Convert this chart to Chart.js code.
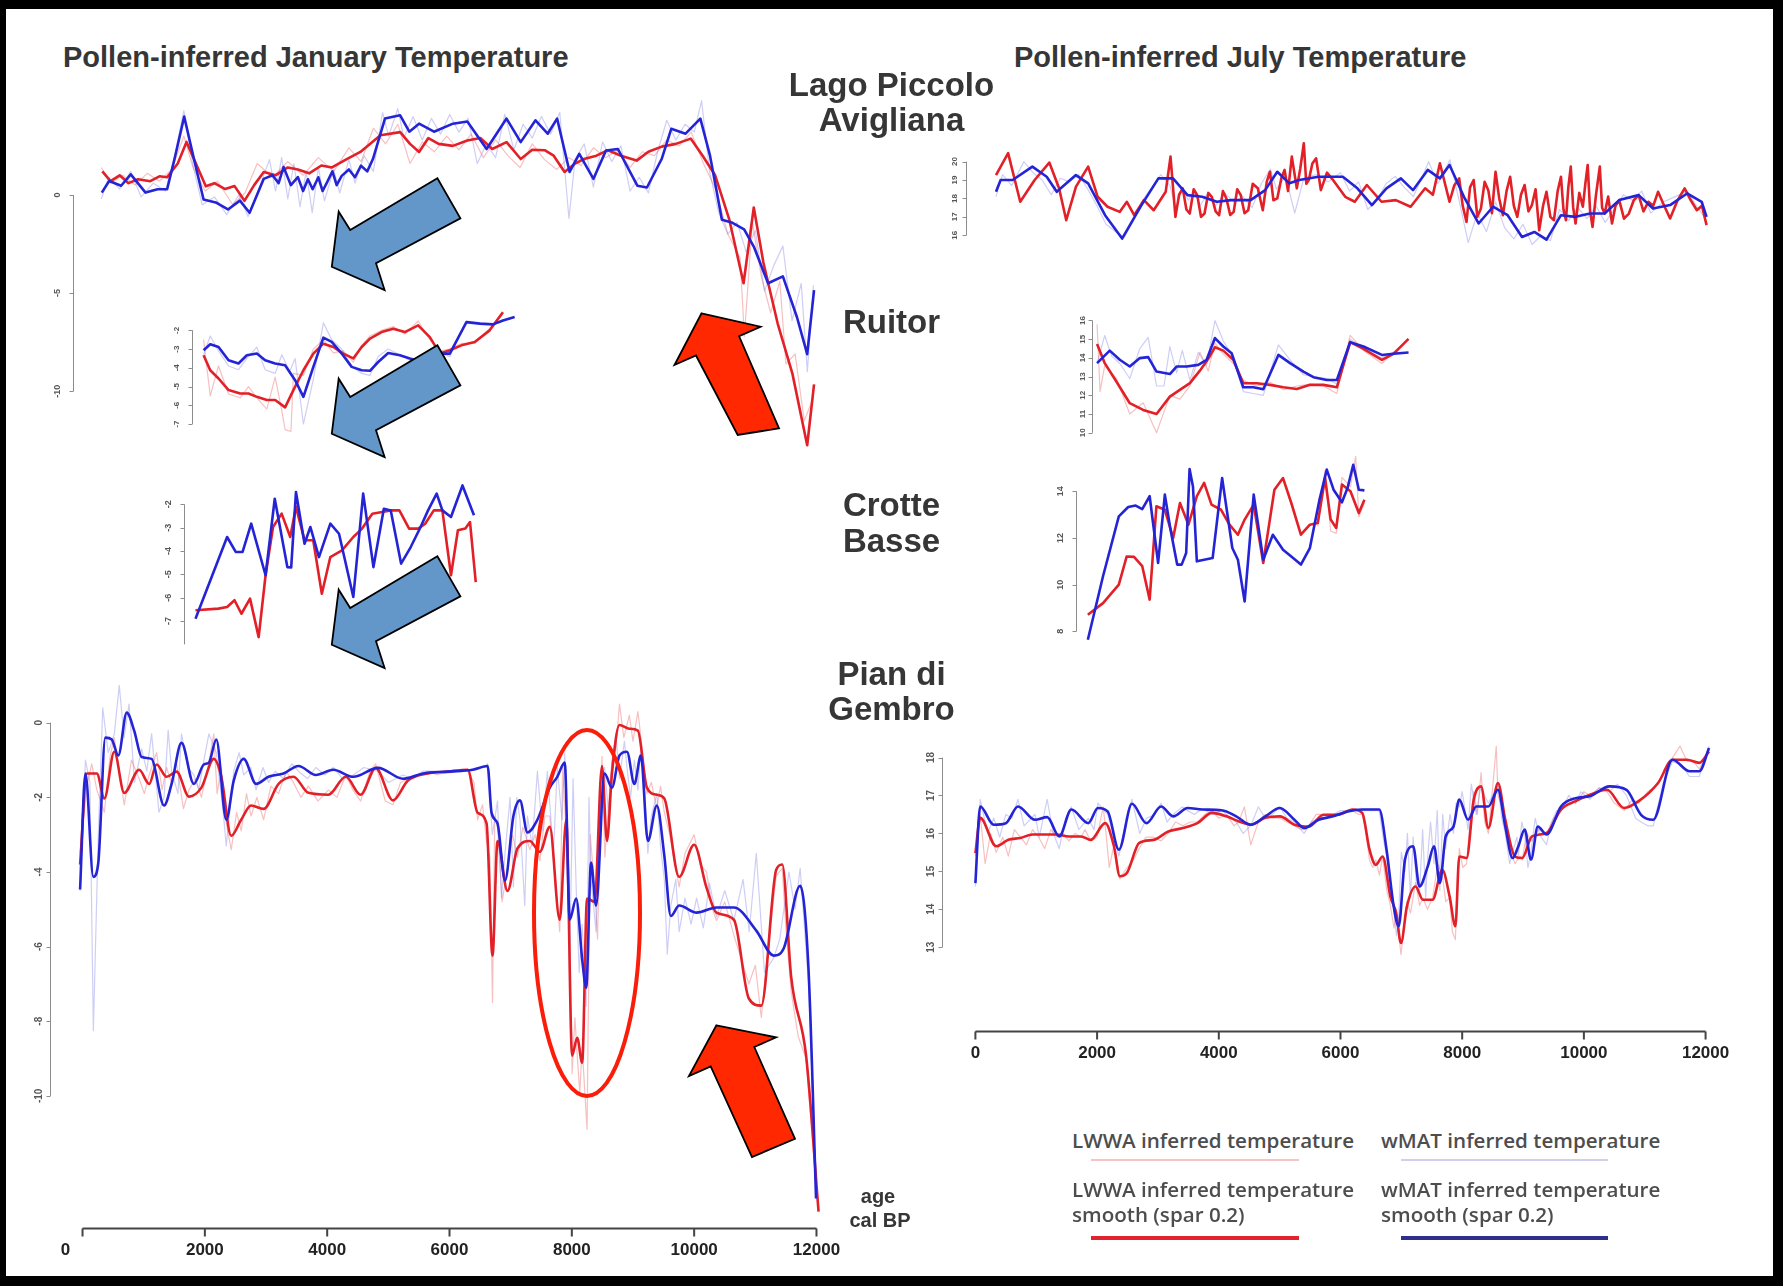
<!DOCTYPE html>
<html>
<head>
<meta charset="utf-8">
<script src="https://cdn.jsdelivr.net/npm/chart.js@4.4.1/dist/chart.umd.min.js"></script>
<style>
  html, body { margin: 0; padding: 0; background: #000; }
  #page { position: relative; width: 1783px; height: 1286px; background: #000; overflow: hidden; }
  #paper { position: absolute; left: 6px; top: 9px; width: 1767px; height: 1267px; background: #fff; }
  canvas { position: absolute; }
  .t { position: absolute; white-space: nowrap; font-family: "Liberation Sans", Arial, sans-serif; font-weight: bold; color: #363636; line-height: 1; }
  .lg { position: absolute; white-space: nowrap; font-family: "Open Sans", sans-serif; font-weight: 600; color: #4d4d4d; line-height: 1; transform-origin: 0 0; }
  .ln { position: absolute; }
  svg { position: absolute; left: 0; top: 0; }
</style>
</head>
<body>
<div id="page"><div id="paper"></div></div>
<script>
// age axis shared by every panel of a column
const ageTicks = [0, 2000, 4000, 6000, 8000, 10000, 12000];

// ---- Lago Piccolo di Avigliana, January ----
const lagoJanBlue = [[307,0.12],[428,0.71],[623,0.47],[781,1.05],[1023,0.12],[1220,0.29],[1376,0.29],[1497,1.83],[1655,3.99],[1815,1.83],[1972,-0.23],[2171,-0.38],[2371,-0.74],[2567,-0.29],[2725,-0.91],[2957,0.82],[3100,1.0],[3200,0.6],[3281,1.42],[3400,0.5],[3515,0.91],[3600,0.2],[3680,0.8],[3757,0.29],[3850,0.9],[3920,0.2],[3992,0.64],[4080,1.2],[4150,0.5],[4232,0.97],[4350,1.3],[4450,0.9],[4548,1.49],[4650,1.2],[4743,1.83],[4940,3.89],[5186,4.06],[5338,3.22],[5498,3.63],[5742,3.22],[6052,3.63],[6287,3.74],[6603,2.34],[6929,3.89],[7161,2.69],[7403,3.8],[7602,3.12],[7756,3.89],[7961,1.17],[8119,2.09],[8351,0.82],[8556,2.26],[8751,2.34],[9069,0.47],[9226,0.38],[9467,1.83],[9624,3.37],[9858,3.12],[10100,3.89],[10258,2.0],[10453,-1.26],[10611,-1.4],[10816,-1.75],[10974,-2.63],[11208,-4.5],[11450,-4.15],[11681,-6.23],[11848,-8.11],[11960,-4.85]];
const lagoJanRed = [[316,1.2],[450,0.7],[600,1.0],[744,0.6],[900,0.8],[1100,0.7],[1250,0.95],[1376,0.9],[1550,1.6],[1693,2.7],[2009,0.44],[2150,0.6],[2325,0.3],[2480,0.45],[2641,-0.3],[2800,0.5],[2957,1.17],[3150,1.0],[3350,1.4],[3515,1.3],[3700,1.1],[3900,1.5],[4073,1.4],[4300,1.8],[4538,2.19],[4866,3.04],[5189,3.2],[5350,2.6],[5498,2.19],[5650,2.9],[5818,2.6],[6050,2.5],[6287,2.77],[6500,2.9],[6696,2.34],[6929,2.69],[7161,1.83],[7350,2.3],[7552,2.28],[7700,2.0],[7879,1.17],[8050,1.6],[8195,1.83],[8400,2.0],[8588,2.28],[8800,2.0],[9058,1.75],[9250,2.2],[9467,2.46],[9700,2.6],[9942,2.87],[10137,2.0],[10342,1.0],[10574,-1.26],[10807,-4.5],[10974,-0.64],[11132,-3.45],[11365,-6.55],[11606,-9.1],[11848,-12.75],[11960,-9.65]];
const lagoJanBlueRaw = [[300,-0.2],[420,0.9],[600,0.3],[780,1.2],[950,-0.1],[1150,0.6],[1350,0.2],[1500,2.0],[1650,4.3],[1800,1.5],[1950,-0.5],[2150,-0.1],[2350,-1.0],[2550,0.0],[2700,-1.1],[2900,0.5],[3050,1.8],[3150,0.2],[3250,1.9],[3350,-0.2],[3450,1.6],[3550,-0.6],[3650,1.2],[3750,-0.9],[3850,1.4],[3950,-0.3],[4100,1.3],[4200,0.1],[4350,1.8],[4450,0.6],[4600,2.0],[4750,1.2],[4900,4.2],[5000,3.0],[5150,4.4],[5250,2.9],[5400,4.0],[5550,2.8],[5700,3.9],[5850,3.1],[6000,4.1],[6150,3.2],[6300,3.9],[6450,1.6],[6600,2.6],[6750,1.9],[6900,4.1],[7050,2.3],[7200,3.6],[7350,2.9],[7500,4.0],[7650,3.1],[7800,4.2],[7950,-1.2],[8050,1.8],[8200,2.6],[8350,0.4],[8500,2.7],[8650,1.7],[8800,2.5],[8950,0.2],[9100,0.9],[9250,0.1],[9400,2.2],[9550,3.8],[9700,2.8],[9850,3.6],[10000,3.2],[10120,4.8],[10250,1.2],[10400,-0.9],[10550,-2.0],[10700,-1.4],[10850,-2.9],[11000,-1.8],[11150,-4.9],[11300,-3.6],[11450,-2.6],[11600,-6.4],[11750,-4.5],[11850,-9.0],[11950,-4.6]];
const lagoJanRedRaw = [[300,1.4],[450,0.6],[650,1.0],[850,0.5],[1050,1.1],[1250,0.7],[1450,1.3],[1650,3.0],[1800,1.4],[2000,0.2],[2200,0.7],[2450,-0.5],[2650,0.1],[2850,1.6],[3100,0.9],[3350,1.7],[3600,1.0],[3850,1.9],[4100,1.2],[4350,2.4],[4550,1.7],[4750,3.4],[4950,2.6],[5150,3.6],[5350,1.6],[5550,2.7],[5750,2.2],[5950,3.0],[6150,2.3],[6350,3.1],[6550,1.9],[6750,2.8],[6950,2.0],[7150,1.4],[7350,2.6],[7550,1.8],[7750,1.3],[7950,1.9],[8150,1.5],[8350,2.4],[8550,1.9],[8750,2.3],[8950,1.4],[9150,2.2],[9350,2.0],[9550,2.8],[9750,2.5],[9950,3.2],[10150,1.6],[10350,0.3],[10550,-2.0],[10750,-3.2],[10820,-7.2],[10950,-1.4],[11100,-4.2],[11250,-6.0],[11400,-4.4],[11500,-8.6],[11650,-8.1],[11800,-11.5],[11950,-10.3]];

// ---- Lago Piccolo di Avigliana, July ----
const lagoJulBlue = [[342,18.36],[418,19.0],[616,19.0],[939,19.73],[1175,19.18],[1340,18.36],[1654,19.27],[1856,18.82],[2134,17.09],[2414,15.82],[2732,17.64],[3010,19.09],[3250,19.09],[3489,18.18],[3729,18.09],[3969,17.82],[4208,17.91],[4525,17.91],[4765,18.45],[4963,19.45],[5162,18.82],[5322,19.0],[5641,19.18],[6040,19.18],[6279,18.55],[6518,17.64],[6757,18.55],[6994,19.09],[7193,18.45],[7434,19.55],[7635,19.09],[7793,19.82],[8030,18.09],[8271,16.64],[8508,17.55],[8748,17.09],[8984,15.91],[9187,16.18],[9386,15.76],[9624,17.09],[9864,17.0],[10100,17.18],[10342,17.18],[10581,17.91],[10900,18.18],[11137,17.45],[11417,17.64],[11696,18.27],[11936,17.82],[12016,17.0]];
const lagoJulRed = [[342,19.27],[541,20.46],[740,17.82],[977,19.0],[1218,19.95],[1378,18.55],[1496,16.82],[1656,18.64],[1856,19.73],[2012,18.09],[2174,17.55],[2374,17.27],[2492,17.82],[2612,17.09],[2772,17.91],[2933,17.36],[3130,18.36],[3209,20.27],[3290,17.0],[3350,18.2],[3410,18.55],[3470,17.4],[3525,17.18],[3590,18.5],[3648,18.18],[3710,17.0],[3768,17.18],[3830,18.3],[3887,18.09],[3950,17.3],[4007,17.09],[4070,18.4],[4127,18.0],[4190,17.1],[4247,17.27],[4305,18.5],[4364,18.18],[4425,17.2],[4486,17.36],[4560,18.8],[4643,18.55],[4725,17.36],[4790,18.9],[4843,19.45],[4900,17.9],[4963,18.0],[5030,19.1],[5083,19.55],[5140,18.4],[5202,20.27],[5284,18.55],[5340,19.6],[5399,21.0],[5440,18.8],[5481,19.0],[5540,19.9],[5601,20.18],[5679,18.45],[5780,19.4],[5879,19.0],[6080,18.09],[6237,17.82],[6435,18.73],[6676,17.82],[6911,17.91],[7154,17.55],[7393,18.55],[7520,18.2],[7635,19.91],[7793,17.82],[7870,18.7],[7952,19.09],[8010,17.6],[8072,16.73],[8130,18.6],[8190,19.0],[8250,17.0],[8309,17.45],[8370,18.9],[8430,18.45],[8490,17.2],[8549,19.45],[8610,18.0],[8670,17.09],[8730,18.4],[8789,19.18],[8850,17.6],[8907,17.0],[8967,18.2],[9027,18.73],[9090,17.3],[9147,17.64],[9207,18.5],[9267,16.27],[9330,17.6],[9386,18.36],[9450,17.0],[9509,16.82],[9570,18.4],[9624,19.18],[9665,17.4],[9706,16.82],[9745,18.6],[9785,19.73],[9825,17.5],[9864,16.64],[9925,18.3],[9984,17.55],[10025,18.8],[10063,19.82],[10103,17.3],[10143,16.45],[10200,18.2],[10262,19.73],[10300,17.5],[10342,17.18],[10400,18.1],[10463,16.64],[10520,17.6],[10581,17.91],[10660,16.9],[10740,17.18],[10820,17.9],[10900,18.18],[10980,17.3],[11060,17.82],[11140,17.6],[11219,18.36],[11320,17.6],[11417,16.91],[11540,17.9],[11656,18.55],[11757,17.9],[11857,17.36],[11940,17.6],[12016,16.55]];
const lagoJulBlueRaw = [[340,18.1],[450,19.3],[600,18.7],[800,20.0],[950,19.4],[1100,19.0],[1250,18.2],[1400,19.1],[1550,18.9],[1700,19.3],[1850,18.5],[2000,17.6],[2150,16.6],[2300,16.2],[2450,15.9],[2600,16.8],[2750,17.9],[2900,18.6],[3050,19.3],[3200,18.7],[3300,17.4],[3400,18.6],[3500,17.9],[3600,18.4],[3700,17.6],[3800,18.2],[3950,17.6],[4100,18.3],[4250,17.8],[4400,18.1],[4550,17.5],[4700,18.8],[4850,19.6],[4950,18.5],[5100,19.2],[5250,17.2],[5400,19.1],[5600,19.3],[5800,18.9],[6000,19.4],[6150,18.4],[6300,18.9],[6450,17.4],[6600,17.9],[6750,18.8],[6900,19.2],[7050,18.6],[7200,18.1],[7350,19.2],[7450,20.0],[7600,18.8],[7800,20.1],[7950,17.9],[8100,15.6],[8250,17.2],[8400,16.2],[8550,17.8],[8700,16.4],[8850,15.8],[9000,16.6],[9150,15.5],[9300,16.0],[9450,15.7],[9600,17.4],[9750,16.8],[9900,17.5],[10050,16.9],[10200,17.6],[10350,16.7],[10500,17.4],[10650,18.2],[10800,17.9],[10950,18.4],[11100,17.2],[11300,17.8],[11500,18.1],[11700,18.4],[11850,17.6],[12000,16.9]];

// ---- Ruitor, January ----
const ruitorJanBlue = [[1968,-3.06],[2077,-2.74],[2213,-2.89],[2377,-3.6],[2540,-3.77],[2677,-3.33],[2841,-3.24],[2977,-3.6],[3141,-3.77],[3304,-3.86],[3468,-4.66],[3604,-5.55],[3767,-3.95],[3931,-2.39],[4068,-2.62],[4232,-3.24],[4395,-3.95],[4559,-4.13],[4695,-4.16],[4830,-3.69],[4994,-3.21],[5185,-3.33],[5349,-3.5],[5566,-3.69],[5786,-3.24],[6004,-3.24],[6276,-1.56],[6494,-1.64],[6711,-1.68],[6875,-1.47],[7066,-1.29]];
const ruitorJanRed = [[1968,-3.33],[2077,-4.13],[2213,-4.57],[2377,-5.19],[2568,-5.37],[2704,-5.37],[2841,-5.55],[3005,-5.72],[3141,-5.72],[3304,-6.11],[3440,-5.19],[3604,-4.13],[3767,-3.24],[3931,-2.71],[4094,-2.89],[4258,-3.24],[4421,-3.5],[4559,-2.89],[4695,-2.44],[4886,-2.09],[5076,-1.91],[5267,-2.09],[5485,-1.73],[5676,-2.36],[5840,-3.24],[6004,-3.06],[6194,-2.8],[6412,-2.62],[6657,-2.0],[6875,-1.03]];
const ruitorJanBlueRaw = [[1968,-3.3],[2077,-2.3],[2213,-3.1],[2377,-3.9],[2540,-4.1],[2677,-3.5],[2841,-2.9],[2977,-4.1],[3141,-4.3],[3250,-3.3],[3380,-4.2],[3468,-3.5],[3604,-7.0],[3767,-4.6],[3931,-1.6],[4068,-2.5],[4232,-3.0],[4395,-3.9],[4559,-4.3],[4695,-4.4],[4830,-3.4],[4994,-3.0],[5185,-3.3],[5349,-3.6],[5566,-3.8],[5786,-3.1],[6004,-3.4],[6276,-1.5],[6494,-1.6],[6711,-1.7],[6875,-1.5],[7066,-1.3]];
const ruitorJanRedRaw = [[1968,-2.5],[2077,-5.5],[2213,-3.9],[2377,-5.4],[2568,-5.6],[2704,-5.0],[2841,-5.6],[3005,-6.2],[3141,-4.5],[3250,-6.3],[3304,-7.3],[3400,-7.4],[3440,-4.3],[3604,-4.4],[3767,-3.0],[3931,-2.5],[4094,-3.2],[4258,-3.1],[4421,-3.7],[4559,-2.8],[4695,-2.3],[4886,-2.0],[5076,-1.8],[5267,-2.2],[5485,-1.5],[5676,-2.5],[5840,-3.1],[6004,-3.0],[6194,-2.7],[6412,-2.7],[6657,-1.9],[6875,-1.0]];

// ---- Ruitor, July ----
const ruitorJulBlue = [[2001,13.72],[2209,14.39],[2374,13.9],[2538,13.54],[2703,13.99],[2840,14.04],[2977,13.27],[3196,13.14],[3306,13.54],[3471,13.54],[3662,13.63],[3799,13.9],[3936,15.06],[4073,14.61],[4210,14.25],[4401,12.43],[4566,12.43],[4730,12.33],[4977,14.16],[5169,13.72],[5388,13.27],[5552,12.97],[5772,12.82],[5937,12.82],[6155,14.84],[6374,14.61],[6676,14.16],[6867,14.22],[7113,14.29]];
const ruitorJulRed = [[2001,14.74],[2127,13.72],[2320,12.73],[2538,11.58],[2757,11.22],[2977,11.0],[3196,11.93],[3360,12.29],[3525,12.65],[3689,13.32],[3826,13.95],[3936,14.57],[4073,14.39],[4237,13.9],[4401,12.65],[4621,12.65],[4840,12.56],[5059,12.43],[5279,12.34],[5498,12.57],[5716,12.56],[5937,12.43],[6155,14.84],[6374,14.48],[6676,13.9],[6867,14.22],[7113,15.02]];
const ruitorJulBlueRaw = [[2001,13.7],[2127,15.2],[2240,14.1],[2374,13.7],[2538,12.9],[2703,14.5],[2840,15.1],[2977,12.5],[3100,12.5],[3196,14.6],[3306,13.2],[3400,14.4],[3525,12.8],[3662,14.3],[3799,13.6],[3936,16.0],[4073,14.9],[4210,14.2],[4401,12.2],[4566,12.1],[4730,12.0],[4977,14.7],[5169,13.9],[5388,13.1],[5552,13.0],[5772,12.9],[5937,12.6],[6155,15.0],[6374,14.5],[6676,14.0],[6867,14.3],[7113,14.3]];
const ruitorJulRedRaw = [[2001,15.8],[2050,12.2],[2127,13.6],[2320,12.9],[2538,11.0],[2757,11.6],[2977,10.0],[3196,12.0],[3360,11.8],[3525,12.5],[3689,14.3],[3826,13.3],[3936,14.8],[4073,14.2],[4237,13.7],[4401,12.8],[4621,12.5],[4840,12.7],[5059,12.3],[5279,12.5],[5498,12.6],[5716,12.5],[5937,12.1],[6155,15.2],[6374,14.4],[6676,13.7],[6867,14.3],[7113,15.0]];

// ---- Crotte Basse, January ----
const crotteJanBlue = [[1835,-6.9],[2352,-3.4],[2493,-4.04],[2605,-4.04],[2746,-2.83],[2981,-5.04],[3131,-1.76],[3337,-4.69],[3400,-4.7],[3478,-1.47],[3618,-3.69],[3713,-2.97],[3854,-4.26],[4040,-2.83],[4182,-3.26],[4416,-5.97],[4577,-1.54],[4745,-4.69],[4915,-2.19],[5028,-2.26],[5197,-4.54],[5355,-3.83],[5516,-2.97],[5638,-2.26],[5779,-1.54],[5872,-2.26],[6013,-2.54],[6201,-1.19],[6389,-2.47]];
const crotteJanRed = [[1835,-6.54],[2210,-6.47],[2352,-6.4],[2473,-6.11],[2586,-6.69],[2727,-6.04],[2868,-7.69],[2981,-5.04],[3103,-2.97],[3244,-2.4],[3384,-3.4],[3478,-2.11],[3618,-3.54],[3760,-3.54],[3901,-5.83],[4040,-4.26],[4230,-3.97],[4416,-3.4],[4559,-3.04],[4727,-2.4],[4886,-2.33],[5028,-2.26],[5169,-2.26],[5328,-3.04],[5478,-3.04],[5591,-2.83],[5732,-2.26],[5872,-2.26],[6013,-5.04],[6126,-3.11],[6248,-3.04],[6324,-2.76],[6418,-5.33]];

// ---- Crotte Basse, July ----
const crotteJulBlue = [[1840,7.64],[2090,10.36],[2350,12.93],[2505,13.33],[2627,13.39],[2736,13.24],[2858,13.79],[2997,10.93],[3108,13.86],[3201,12.36],[3311,10.86],[3385,10.86],[3459,11.36],[3515,14.96],[3571,14.21],[3635,11.0],[3755,11.07],[3895,11.14],[4051,14.57],[4219,11.57],[4311,11.07],[4422,9.28],[4571,13.86],[4728,11.07],[4886,12.14],[5054,11.5],[5190,11.21],[5348,10.86],[5496,11.57],[5654,13.64],[5774,14.93],[5886,14.07],[6024,13.53],[6116,14.14],[6210,15.14],[6302,14.07],[6394,14.04]];
const crotteJulRed = [[1840,8.71],[2090,9.21],[2350,10.0],[2480,11.21],[2600,11.19],[2736,10.79],[2858,9.36],[2969,13.36],[3108,13.21],[3245,12.0],[3357,13.5],[3497,12.57],[3635,13.79],[3755,14.36],[3876,13.43],[4034,13.21],[4172,12.57],[4311,12.14],[4422,12.79],[4571,13.43],[4728,10.93],[4912,14.07],[5054,14.57],[5190,13.5],[5348,12.14],[5496,12.57],[5626,12.64],[5746,14.57],[5838,12.79],[5930,12.43],[6024,14.29],[6164,14.0],[6302,13.07],[6394,13.64]];
const crotteJulRedRaw = [[5626,12.5],[5746,14.9],[5838,12.3],[5930,12.2],[6024,14.6],[6164,14.2],[6250,15.5],[6302,12.9],[6394,13.5]];

// ---- Pian di Gembro, January ----
const gembroJanBlue = [[-40,-4.47],[47,-1.36],[177,-4.13],[258,-3.75],[373,-0.4],[478,-0.45],[584,-0.88],[723,0.27],[844,-0.21],[967,-0.92],[1129,-0.97],[1333,-2.22],[1456,-1.64],[1618,-0.54],[1820,-1.64],[1984,-1.12],[2066,-1.07],[2187,-0.45],[2350,-2.6],[2472,-1.55],[2635,-0.97],[2838,-1.64],[3041,-1.45],[3286,-1.36],[3530,-1.16],[3815,-1.4],[4099,-1.26],[4425,-1.45],[4832,-1.21],[5239,-1.5],[5565,-1.36],[5970,-1.31],[6378,-1.26],[6623,-1.16],[6687,-2.41],[6785,-2.7],[6908,-4.23],[7045,-2.5],[7152,-2.08],[7274,-2.94],[7437,-2.6],[7639,-1.74],[7762,-1.45],[7884,-1.07],[7966,-5.28],[8071,-4.71],[8169,-6.34],[8235,-7.1],[8314,-3.75],[8396,-4.9],[8535,-1.36],[8656,-1.74],[8779,-0.88],[8901,-0.78],[9023,-1.64],[9129,-0.88],[9243,-3.17],[9389,-2.22],[9512,-3.56],[9618,-5.18],[9755,-4.9],[10040,-5.09],[10365,-4.95],[10650,-4.95],[11016,-5.57],[11301,-6.24],[11464,-6.05],[11733,-4.37],[11870,-6.62],[11993,-12.75]];
const gembroJanRed = [[-40,-3.8],[72,-1.36],[234,-1.36],[357,-2.03],[519,-0.78],[682,-1.88],[926,-1.26],[1090,-1.64],[1210,-1.12],[1374,-1.45],[1538,-1.31],[1741,-1.98],[1943,-1.74],[2146,-0.97],[2269,-1.45],[2431,-3.03],[2594,-2.6],[2756,-2.22],[2961,-2.31],[3205,-1.64],[3448,-1.45],[3693,-1.88],[4019,-1.93],[4304,-1.45],[4547,-1.93],[4793,-1.21],[5076,-2.08],[5321,-1.55],[5646,-1.36],[5970,-1.31],[6297,-1.26],[6459,-2.41],[6606,-2.7],[6703,-6.24],[6785,-3.17],[6948,-4.51],[7111,-3.37],[7314,-3.17],[7477,-3.46],[7639,-2.79],[7802,-5.28],[7909,-2.6],[8005,-8.92],[8087,-8.44],[8169,-9.11],[8249,-4.71],[8372,-4.8],[8493,-1.16],[8574,-3.17],[8656,-1.36],[8779,-0.06],[8941,-0.16],[9080,-0.21],[9227,-1.74],[9389,-1.93],[9512,-2.03],[9755,-4.13],[9999,-3.27],[10202,-4.42],[10365,-5.09],[10650,-5.28],[10894,-7.39],[11098,-7.58],[11342,-3.94],[11440,-3.8],[11586,-6.81],[11830,-8.92],[12034,-13.1]];
const gembroJanBlueRaw = [[-40,-4.5],[47,-1.0],[120,-1.6],[177,-8.25],[258,-3.0],[330,0.4],[420,-0.8],[520,-0.3],[600,1.0],[680,-0.4],[760,0.5],[850,-1.6],[967,-0.7],[1050,-1.3],[1129,-0.3],[1250,-2.4],[1333,-2.0],[1400,-0.2],[1456,-1.3],[1560,-1.9],[1618,-0.3],[1720,-1.2],[1820,-1.4],[1900,-1.8],[1984,-1.0],[2066,-0.3],[2187,-0.8],[2300,-2.4],[2350,-3.3],[2472,-1.3],[2560,-0.8],[2635,-1.4],[2750,-1.2],[2838,-1.8],[2950,-1.2],[3041,-1.6],[3150,-1.3],[3286,-1.5],[3420,-1.1],[3530,-1.3],[3680,-1.5],[3815,-1.2],[3960,-1.4],[4099,-1.2],[4250,-1.5],[4425,-1.4],[4600,-1.2],[4832,-1.3],[5000,-1.6],[5239,-1.4],[5400,-1.5],[5565,-1.3],[5800,-1.3],[5970,-1.35],[6200,-1.3],[6378,-1.25],[6560,-1.2],[6623,-1.1],[6700,-3.0],[6785,-2.1],[6850,-4.7],[6908,-3.5],[6990,-2.0],[7045,-4.4],[7100,-2.0],[7152,-2.6],[7230,-4.9],[7274,-2.5],[7350,-3.3],[7437,-1.3],[7520,-2.9],[7600,-1.3],[7700,-3.5],[7762,-1.2],[7840,-2.6],[7884,-0.8],[7966,-6.2],[8020,-1.5],[8071,-4.4],[8120,-6.7],[8169,-5.4],[8235,-7.6],[8280,-2.0],[8314,-4.2],[8396,-5.6],[8450,-2.6],[8535,-1.2],[8600,-2.4],[8656,-1.1],[8720,-0.3],[8779,-1.5],[8860,-0.5],[8901,-1.2],[8960,-2.0],[9023,-1.0],[9080,-1.8],[9129,-0.6],[9180,-1.5],[9243,-3.5],[9300,-2.5],[9389,-1.9],[9450,-3.3],[9512,-4.2],[9560,-6.2],[9618,-4.9],[9700,-4.2],[9755,-5.6],[9850,-4.7],[9950,-5.4],[10040,-4.7],[10150,-5.5],[10250,-4.3],[10365,-5.2],[10500,-4.5],[10650,-5.3],[10800,-4.2],[10900,-5.6],[11016,-3.5],[11150,-6.7],[11301,-6.3],[11400,-5.8],[11550,-4.0],[11650,-5.0],[11733,-3.9],[11870,-7.0],[11993,-12.5]];
const gembroJanRedRaw = [[-40,-3.5],[72,-1.7],[150,-1.1],[234,-1.8],[357,-2.4],[450,-0.9],[519,-0.4],[600,-1.3],[682,-2.2],[800,-1.0],[926,-1.5],[1010,-1.9],[1090,-1.4],[1210,-0.8],[1300,-1.8],[1374,-1.2],[1450,-1.6],[1538,-1.1],[1650,-2.3],[1741,-1.8],[1850,-1.5],[1943,-2.0],[2050,-1.2],[2146,-0.3],[2200,-1.9],[2269,-1.2],[2350,-2.7],[2431,-3.4],[2520,-2.4],[2594,-2.9],[2680,-1.9],[2756,-2.5],[2850,-2.0],[2961,-2.6],[3080,-1.7],[3205,-1.9],[3330,-1.3],[3448,-1.6],[3570,-2.0],[3693,-1.7],[3850,-2.1],[4019,-1.8],[4160,-2.0],[4304,-1.4],[4420,-1.8],[4547,-2.1],[4700,-1.3],[4793,-1.1],[4950,-2.1],[5076,-2.2],[5200,-1.6],[5321,-1.5],[5500,-1.4],[5646,-1.3],[5800,-1.4],[5970,-1.3],[6150,-1.3],[6297,-1.3],[6400,-1.6],[6459,-2.6],[6540,-2.2],[6606,-3.2],[6660,-3.6],[6703,-7.5],[6740,-2.5],[6785,-2.8],[6860,-4.8],[6948,-3.9],[7030,-3.0],[7111,-3.6],[7200,-2.8],[7314,-3.4],[7400,-3.0],[7477,-3.7],[7560,-2.5],[7639,-2.5],[7720,-4.0],[7802,-5.6],[7850,-1.2],[7909,-3.0],[7960,-5.0],[8005,-9.4],[8050,-7.9],[8087,-8.9],[8130,-9.9],[8169,-8.7],[8249,-10.9],[8300,-3.0],[8372,-4.4],[8420,-5.8],[8493,-0.9],[8540,-3.6],[8574,-2.8],[8656,-1.0],[8720,-0.7],[8779,0.5],[8850,-0.4],[8941,0.2],[9000,-0.5],[9080,0.3],[9150,-0.7],[9227,-1.9],[9300,-1.6],[9389,-2.3],[9450,-1.7],[9512,-2.4],[9600,-3.0],[9755,-4.4],[9850,-3.5],[9999,-3.0],[10100,-3.8],[10202,-4.0],[10300,-5.0],[10365,-5.3],[10500,-4.8],[10650,-5.7],[10800,-6.5],[10894,-7.0],[11000,-6.5],[11098,-7.9],[11200,-6.2],[11342,-4.1],[11440,-3.9],[11500,-5.5],[11586,-7.2],[11700,-8.4],[11830,-9.0],[11950,-11.5],[12034,-13.0]];

// ---- Pian di Gembro, July ----
const gembroJulBlue = [[0,14.69],[79,16.71],[301,16.23],[500,16.27],[700,16.71],[978,16.36],[1179,16.43],[1378,15.92],[1577,16.63],[1856,16.27],[2014,16.67],[2173,16.58],[2358,15.57],[2573,16.78],[2811,16.27],[3051,16.71],[3250,16.45],[3489,16.67],[3729,16.63],[4047,16.61],[4286,16.45],[4525,16.23],[4765,16.45],[5003,16.67],[5243,16.36],[5402,16.14],[5641,16.36],[5879,16.45],[6119,16.58],[6357,16.63],[6637,16.63],[6757,15.57],[6875,14.07],[6956,13.55],[7060,15.31],[7194,15.66],[7298,14.6],[7434,15.13],[7537,15.66],[7633,14.69],[7729,15.92],[7857,16.18],[7952,16.89],[8096,16.36],[8232,16.71],[8430,16.71],[8588,17.15],[8708,16.18],[8828,15.35],[8923,15.66],[9027,16.1],[9131,15.31],[9243,16.18],[9386,15.97],[9624,16.71],[9864,16.93],[10100,16.98],[10421,17.24],[10700,17.15],[10939,16.49],[11139,16.36],[11457,17.94],[11736,17.64],[11896,17.64],[12057,18.25]];
const gembroJulRed = [[0,15.48],[79,16.41],[342,15.66],[541,15.83],[740,15.88],[939,15.97],[1138,15.97],[1338,15.97],[1536,15.92],[1736,15.92],[1896,15.83],[2134,16.27],[2277,15.66],[2374,14.87],[2492,14.96],[2693,15.75],[2931,15.83],[3170,16.05],[3410,16.14],[3648,16.27],[3887,16.54],[4126,16.45],[4325,16.32],[4525,16.23],[4765,16.41],[5003,16.45],[5243,16.23],[5481,16.18],[5721,16.49],[5960,16.49],[6198,16.63],[6357,16.54],[6477,15.57],[6581,15.17],[6693,15.39],[6819,14.34],[6915,13.9],[6994,13.11],[7091,14.07],[7234,14.6],[7354,14.25],[7513,14.25],[7673,15.04],[7793,14.34],[7888,13.55],[7952,15.39],[8072,15.35],[8190,16.89],[8310,17.24],[8430,16.14],[8588,17.33],[8708,16.36],[8868,15.39],[8986,15.35],[9147,15.92],[9386,16.01],[9624,16.63],[9864,16.85],[10100,17.02],[10380,17.15],[10660,16.67],[10900,16.85],[11219,17.33],[11457,17.94],[11696,17.94],[11896,17.86],[12057,18.16]];
const gembroJulBlueRaw = [[0,14.6],[79,16.9],[200,16.0],[301,16.4],[400,15.9],[500,16.5],[600,16.4],[700,16.9],[800,16.2],[978,16.5],[1050,15.9],[1179,16.9],[1280,16.0],[1378,15.6],[1480,16.4],[1577,16.7],[1700,16.1],[1856,16.4],[1950,16.1],[2014,16.8],[2173,16.5],[2260,16.0],[2358,15.4],[2480,16.4],[2573,16.9],[2700,16.0],[2811,16.4],[2950,16.5],[3051,16.8],[3150,16.3],[3250,16.5],[3400,16.7],[3489,16.6],[3600,16.5],[3729,16.65],[3900,16.5],[4047,16.6],[4200,16.4],[4286,16.3],[4400,16.0],[4525,16.2],[4650,16.7],[4765,16.4],[4880,16.5],[5003,16.7],[5120,16.4],[5243,16.3],[5402,16.0],[5520,16.3],[5641,16.4],[5760,16.5],[5879,16.5],[6000,16.6],[6119,16.6],[6240,16.6],[6357,16.6],[6500,16.6],[6637,16.6],[6700,15.9],[6757,15.4],[6820,14.5],[6875,14.0],[6920,13.3],[6956,13.8],[7000,15.5],[7060,15.0],[7100,16.0],[7150,14.3],[7194,15.9],[7250,14.6],[7298,14.4],[7350,16.1],[7400,14.3],[7434,15.4],[7480,16.3],[7537,15.2],[7590,16.6],[7633,14.5],[7680,16.5],[7729,15.6],[7800,16.5],[7857,16.0],[7900,16.8],[7952,16.7],[8000,17.1],[8096,16.1],[8150,17.3],[8232,16.5],[8300,17.2],[8430,16.8],[8500,17.0],[8588,17.3],[8650,16.4],[8708,16.0],[8780,15.2],[8828,15.5],[8900,15.9],[8923,15.4],[8980,16.3],[9027,16.0],[9080,15.1],[9131,15.5],[9200,16.4],[9243,16.1],[9300,15.9],[9386,15.7],[9450,16.2],[9550,16.6],[9624,16.6],[9750,17.0],[9864,16.8],[9950,17.1],[10100,16.9],[10250,17.2],[10421,17.1],[10550,17.3],[10700,17.0],[10850,16.4],[10939,16.3],[11050,16.2],[11139,16.2],[11300,17.3],[11457,17.9],[11600,17.8],[11736,17.5],[11896,17.5],[12057,18.3]];
const gembroJulRedRaw = [[0,15.4],[79,16.5],[160,15.2],[250,16.0],[342,15.5],[450,15.9],[541,15.4],[640,16.1],[740,15.9],[840,15.7],[939,16.1],[1040,15.9],[1138,15.6],[1240,16.1],[1338,15.9],[1440,16.0],[1536,15.8],[1640,16.0],[1736,15.9],[1800,16.1],[1896,15.8],[2000,15.9],[2100,16.7],[2134,16.2],[2200,15.1],[2277,15.7],[2374,14.8],[2492,15.1],[2600,15.3],[2693,15.6],[2800,15.9],[2931,15.9],[3050,15.8],[3170,16.0],[3290,16.3],[3410,16.2],[3530,16.3],[3648,16.3],[3770,16.5],[3887,16.6],[4000,16.4],[4126,16.5],[4250,16.2],[4325,16.3],[4420,16.7],[4525,15.7],[4650,16.3],[4765,16.5],[4880,16.4],[5003,16.4],[5120,16.3],[5243,16.2],[5360,16.1],[5481,16.2],[5600,16.5],[5721,16.5],[5840,16.4],[5960,16.5],[6080,16.6],[6198,16.6],[6300,16.5],[6357,16.5],[6420,16.0],[6477,15.3],[6530,15.1],[6581,15.3],[6640,14.9],[6693,15.4],[6760,14.5],[6819,14.1],[6880,13.5],[6915,14.0],[6994,12.8],[7050,13.6],[7091,14.2],[7150,13.9],[7234,14.7],[7300,14.1],[7354,14.3],[7430,14.0],[7513,14.3],[7600,15.2],[7673,14.9],[7730,14.2],[7793,14.3],[7840,13.4],[7888,13.2],[7952,15.6],[8010,15.1],[8072,15.2],[8130,16.3],[8190,17.1],[8250,16.5],[8310,17.6],[8370,16.3],[8430,16.0],[8500,17.2],[8560,18.3],[8588,17.0],[8650,16.7],[8708,16.1],[8800,15.5],[8868,15.2],[8950,15.4],[8986,15.3],[9060,16.0],[9147,15.8],[9250,16.1],[9386,16.0],[9500,16.4],[9624,16.6],[9750,16.9],[9864,16.8],[10000,17.1],[10100,17.0],[10250,17.2],[10380,17.1],[10500,16.8],[10660,16.6],[10800,16.9],[10900,16.8],[11050,17.1],[11219,17.3],[11350,17.7],[11457,18.0],[11580,18.3],[11696,17.9],[11800,17.9],[11896,17.7],[12057,18.2]];

// ---------------------------------------------------------------
const page = document.getElementById('page');
const colL = { x0: 83, k: 0.061125 };   // px of age 0, px per year
const colR = { x0: 975.6, k: 0.060833 };

const RED = 'rgb(226,32,40)', BLUE = 'rgb(36,36,214)';
const RED_RAW = 'rgba(238,115,115,0.45)', BLUE_RAW = 'rgba(115,115,225,0.35)';

// R-style axes: y line only between first and last tick, labels along the axis
const rAxis = {
  id: 'rAxis',
  afterDraw(chart, args, o) {
    const ctx = chart.ctx, a = chart.chartArea, ys = chart.scales.y, xs = chart.scales.x;
    ctx.save();
    const X = Math.round(a.left) + 0.5;
    ctx.strokeStyle = '#8c8c8c';
    ctx.lineWidth = 1;
    ctx.beginPath();
    ctx.moveTo(X, ys.getPixelForValue(o.from));
    ctx.lineTo(X, ys.getPixelForValue(o.to));
    o.ticks.forEach(v => {
      const py = Math.round(ys.getPixelForValue(v)) + 0.5;
      ctx.moveTo(X, py); ctx.lineTo(X - 4, py);
    });
    ctx.stroke();
    ctx.fillStyle = '#555';
    ctx.font = 'bold ' + o.size + 'px "Liberation Sans"';
    ctx.textAlign = 'center';
    ctx.textBaseline = 'middle';
    o.ticks.forEach(v => {
      ctx.save();
      ctx.translate(X - o.gap, ys.getPixelForValue(v));
      ctx.rotate(-Math.PI / 2);
      ctx.fillText(String(v), 0, 0);
      ctx.restore();
    });
    if (o.ages) {
      const Y = Math.round(a.bottom) + 0.5;
      ctx.strokeStyle = '#444';
      ctx.lineWidth = 2;
      ctx.beginPath();
      ctx.moveTo(xs.getPixelForValue(ageTicks[0]), Y);
      ctx.lineTo(xs.getPixelForValue(ageTicks[ageTicks.length - 1]), Y);
      ageTicks.forEach(t => {
        const px = xs.getPixelForValue(t);
        ctx.moveTo(px, Y); ctx.lineTo(px, Y + 8);
      });
      ctx.stroke();
      ctx.fillStyle = '#222';
      ctx.font = 'bold 17px "Liberation Sans"';
      ctx.textBaseline = 'alphabetic';
      ageTicks.forEach(t => ctx.fillText(String(t), xs.getPixelForValue(t) - (t === 0 ? o.zeroShift : 0), Y + 26));
    }
    ctx.restore();
  }
};

function pts(s) { return s.map(([x, y]) => ({ x, y })); }

function panel(p) {
  const col = p.col === 'L' ? colL : colR;
  const left = col.x0 + col.k * p.xMin, right = col.x0 + col.k * p.xMax;
  const [v1, p1, v2, p2] = p.yRef;
  const ky = (p2 - p1) / (v2 - v1);
  const top = p1 + (p.yMax - v1) * ky, bottom = p1 + (p.yMin - v1) * ky;
  const pad = { left: 30, right: p.ages ? 34 : 6, top: 6, bottom: p.ages ? 36 : 6 };
  const cv = document.createElement('canvas');
  const cl = Math.round(left - pad.left), ct = Math.round(top - pad.top);
  const W = Math.round(right + pad.right) - cl, H = Math.round(bottom + pad.bottom) - ct;
  cv.width = W; cv.height = H;
  cv.style.left = cl + 'px'; cv.style.top = ct + 'px';
  cv.style.width = W + 'px'; cv.style.height = H + 'px';
  page.appendChild(cv);
  const pl = { left: Math.round(left) - cl, right: cl + W - Math.round(right), top: Math.round(top) - ct, bottom: ct + H - Math.round(bottom) };
  const smooth = p.curve ? 'monotone' : 'default';
  const ds = [];
  if (p.blue) ds.push({ data: pts(p.blue), borderColor: BLUE, borderWidth: 2.6, cubicInterpolationMode: smooth });
  if (p.red) ds.push({ data: pts(p.red), borderColor: RED, borderWidth: 2.6, cubicInterpolationMode: smooth });
  if (p.blueRaw) ds.push({ data: pts(p.blueRaw), borderColor: BLUE_RAW, borderWidth: 1.2 });
  if (p.redRaw) ds.push({ data: pts(p.redRaw), borderColor: RED_RAW, borderWidth: 1.2 });
  new Chart(cv, {
    type: 'line',
    data: { datasets: ds },
    options: {
      responsive: false, animation: false, devicePixelRatio: 1,
      layout: { padding: pl },
      elements: { point: { radius: 0 }, line: { tension: 0, borderJoinStyle: 'round' } },
      scales: {
        x: { type: 'linear', min: p.xMin, max: p.xMax, display: false },
        y: { type: 'linear', min: p.yMin, max: p.yMax, display: false }
      },
      plugins: {
        legend: { display: false }, tooltip: { enabled: false },
        rAxis: { ticks: p.ticks, from: p.from, to: p.to, gap: p.gap, size: p.size, ages: !!p.ages, zeroShift: p.zeroShift || 0 }
      }
    },
    plugins: [rAxis]
  });
}

panel({ col: 'L', xMin: -164, xMax: 12221, yRef: [0, 195, -10, 391], yMin: -13.5, yMax: 5.6,
  ticks: [0, -5, -10], from: 0, to: -10, gap: 16, size: 9,
  blue: lagoJanBlue, red: lagoJanRed, blueRaw: lagoJanBlueRaw, redRaw: lagoJanRedRaw });
panel({ col: 'R', xMin: -151, xMax: 12237, yRef: [20, 161.7, 16, 235], yMin: 15.2, yMax: 21.5,
  ticks: [16, 17, 18, 19, 20], from: 16, to: 20, gap: 12, size: 8,
  blue: lagoJulBlue, red: lagoJulRed, blueRaw: lagoJulBlueRaw });
panel({ col: 'L', xMin: 1778, xMax: 7400, yRef: [-2, 330, -7, 424], yMin: -7.8, yMax: -0.7,
  ticks: [-2, -3, -4, -5, -6, -7], from: -2, to: -7, gap: 16, size: 8,
  blue: ruitorJanBlue, red: ruitorJanRed, blueRaw: ruitorJanBlueRaw, redRaw: ruitorJanRedRaw });
panel({ col: 'R', xMin: 1918, xMax: 7400, yRef: [16, 320.7, 10, 432.7], yMin: 9.4, yMax: 16.4,
  ticks: [10, 11, 12, 13, 14, 15, 16], from: 10, to: 16, gap: 10, size: 8,
  blue: ruitorJulBlue, red: ruitorJulRed, blueRaw: ruitorJulBlueRaw, redRaw: ruitorJulRedRaw });
panel({ col: 'L', xMin: 1647, xMax: 6700, yRef: [-2, 504, -7, 620.7], yMin: -8.2, yMax: -1.0,
  ticks: [-2, -3, -4, -5, -6, -7], from: -2, to: -8, gap: 16, size: 9,
  blue: crotteJanBlue, red: crotteJanRed });
panel({ col: 'R', xMin: 1645, xMax: 6700, yRef: [14, 491.7, 8, 631.7], yMin: 7.2, yMax: 15.9,
  ticks: [8, 10, 12, 14], from: 8, to: 14, gap: 16, size: 9,
  blue: crotteJulBlue, red: crotteJulRed, redRaw: crotteJulRedRaw });
panel({ col: 'L', xMin: -532, xMax: 12221, yRef: [0, 723, -10, 1096], yMin: -13.54, yMax: 1.6,
  ticks: [0, -2, -4, -6, -8, -10], from: 0, to: -10, gap: 11, size: 10, ages: true, zeroShift: 17, curve: true,
  blue: gembroJanBlue, red: gembroJanRed, blueRaw: gembroJanBlueRaw, redRaw: gembroJanRedRaw });
panel({ col: 'R', xMin: -549, xMax: 12237, yRef: [18, 757.9, 13, 947.4], yMin: 10.79, yMax: 18.7,
  ticks: [13, 14, 15, 16, 17, 18], from: 13, to: 18, gap: 11, size: 10, ages: true, curve: true,
  blue: gembroJulBlue, red: gembroJulRed, blueRaw: gembroJulBlueRaw, redRaw: gembroJulRedRaw });

// ---- text ----
function text(str, x, baseline, size, align, cls) {
  const d = document.createElement('div');
  d.className = cls || 't';
  d.textContent = str;
  d.style.fontSize = size + 'px';
  const asc = (cls === 'lg') ? 0.888 : 0.8465;
  d.style.top = (baseline - asc * size) + 'px';
  if (align === 'center') {
    d.style.left = (x - 300) + 'px'; d.style.width = '600px'; d.style.textAlign = 'center';
  } else {
    d.style.left = x + 'px';
  }
  page.appendChild(d);
  return d;
}
text('Pollen-inferred January Temperature', 63, 68, 29);
text('Pollen-inferred July Temperature', 1014, 68, 29);
text('Lago Piccolo', 891.5, 95.5, 33, 'center');
text('Avigliana', 891.5, 131, 33, 'center');
text('Ruitor', 891.5, 333, 33, 'center');
text('Crotte', 891.5, 516, 33, 'center');
text('Basse', 891.5, 551.5, 33, 'center');
text('Pian di', 891.5, 684.5, 33, 'center');
text('Gembro', 891.5, 720, 33, 'center');
text('age', 878, 1203, 20, 'center');
text('cal BP', 880, 1227, 20, 'center');

// legend
const lg = [
  text('LWWA inferred temperature', 1071.7, 1149, 20, null, 'lg'),
  text('wMAT inferred temperature', 1381.4, 1149, 20, null, 'lg'),
  text('LWWA inferred temperature', 1071.7, 1198, 20, null, 'lg'),
  text('smooth (spar 0.2)', 1071.7, 1223, 20, null, 'lg'),
  text('wMAT inferred temperature', 1381.4, 1198, 20, null, 'lg'),
  text('smooth (spar 0.2)', 1381.4, 1223, 20, null, 'lg')
];
const sx = 282 / lg[0].offsetWidth;
lg.forEach(d => d.style.transform = 'scaleX(' + sx + ')');
function bar(x, y, w, h, c) {
  const d = document.createElement('div');
  d.className = 'ln';
  Object.assign(d.style, { left: x + 'px', top: (y - h / 2) + 'px', width: w + 'px', height: h + 'px', background: c });
  page.appendChild(d);
}
bar(1091, 1159.6, 208, 2, 'rgb(246,196,196)');
bar(1401, 1159.6, 207, 2, 'rgb(208,208,236)');
bar(1091, 1238, 208, 4.5, 'rgb(225,35,45)');
bar(1401, 1238, 207, 4.5, 'rgb(46,46,140)');

// ---- annotations: arrows and ellipse ----
const NS = 'http://www.w3.org/2000/svg';
const svg = document.createElementNS(NS, 'svg');
svg.setAttribute('width', 1783); svg.setAttribute('height', 1286);
page.appendChild(svg);
function poly(ptsArr, fill) {
  const p = document.createElementNS(NS, 'polygon');
  p.setAttribute('points', ptsArr.map(q => q.join(',')).join(' '));
  p.setAttribute('fill', fill); p.setAttribute('stroke', '#000'); p.setAttribute('stroke-width', '1.8');
  p.setAttribute('stroke-linejoin', 'miter');
  svg.appendChild(p);
}
const blueArrow = [[331.8, 266.7], [338.7, 211.7], [350.2, 230], [437.4, 178.3], [460.4, 218.3], [376, 263.3], [384.6, 290]];
[0, 167, 378].forEach(dy => poly(blueArrow.map(([x, y]) => [x, y + dy]), 'rgb(100,151,201)'));
poly([[701.5, 313.3], [760.6, 326.7], [739.1, 336.3], [779, 428.3], [737.7, 435], [696, 355.5], [674.5, 365]], 'rgb(255,40,0)');
poly([[716.4, 1025.3], [776.1, 1037.4], [754.3, 1047], [795, 1138.8], [752, 1157], [710.7, 1066.4], [688.9, 1076]], 'rgb(255,40,0)');
const el = document.createElementNS(NS, 'ellipse');
el.setAttribute('cx', 587); el.setAttribute('cy', 913); el.setAttribute('rx', 53); el.setAttribute('ry', 183);
el.setAttribute('fill', 'none'); el.setAttribute('stroke', 'rgb(250,30,10)'); el.setAttribute('stroke-width', 4);
svg.appendChild(el);
</script>
</body>
</html>
